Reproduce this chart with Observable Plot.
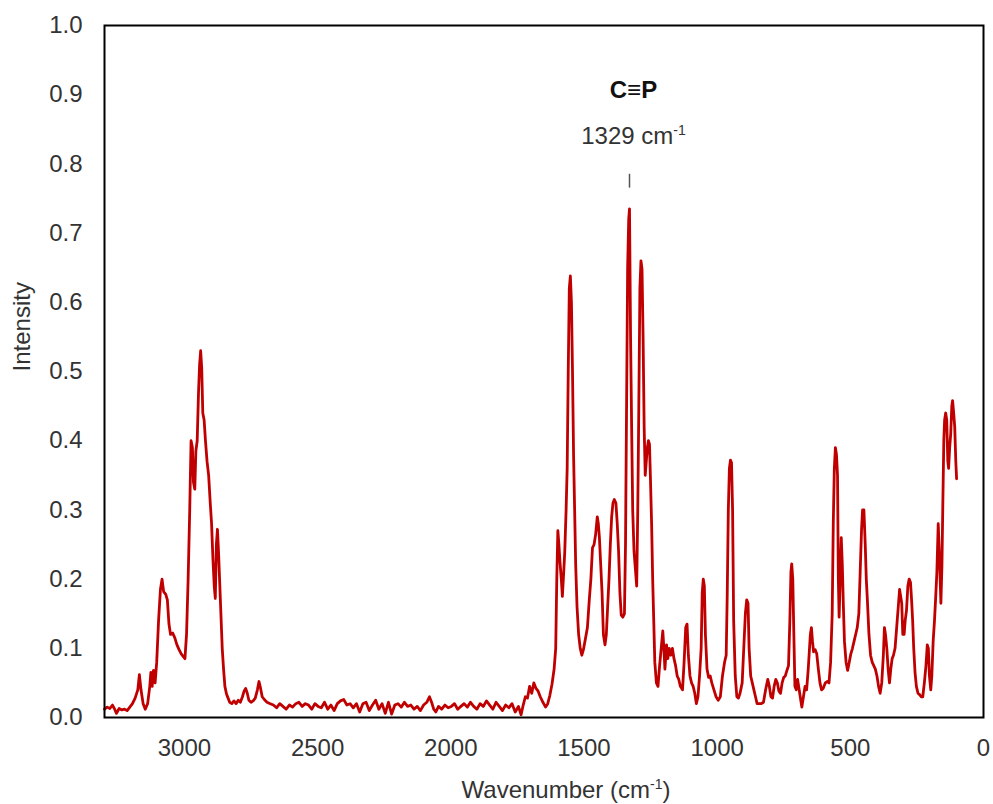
<!DOCTYPE html>
<html>
<head>
<meta charset="utf-8">
<script src="https://cdn.jsdelivr.net/npm/d3@7"></script>
<script src="https://cdn.jsdelivr.net/npm/@observablehq/plot@0.6"></script>
<style>
  html, body { margin: 0; padding: 0; background: white; }
  #chart { width: 993px; height: 804px; }
</style>
</head>
<body>
<div id="chart"></div>
<script>
// ---- Data ----
const wavenumbers = [
  3300,3290,3280,3270,3262,3255,3245,3235,3225,3215,3205,3195,3185,3175,3169,3163,3155,3147,3138,3130,
  3126,3121,3116,3110,3104,3097,3090,3084,3078,3070,3064,3058,3052,3044,3036,3028,3020,3012,3004,2998,
  2992,2986,2980,2975,2970,2966,2961,2957,2952,2947,2943,2939,2935,2931,2926,2921,2915,2909,2903,2898,
  2893,2888,2884,2880,2876,2872,2868,2863,2858,2853,2848,2842,2836,2830,2822,2814,2806,2798,2790,2782,
  2776,2770,2764,2758,2750,2742,2734,2726,2720,2714,2708,2700,
  2690,2678,2666,2654,2642,2630,2618,2606,2594,2582,2570,2558,2546,2534,2522,2510,2498,2486,2474,2462,
  2450,2438,2426,2414,2402,2390,2378,2366,2354,2342,2330,2318,2306,2294,2282,2270,2258,2246,2234,2222,
  2210,2198,2186,2174,2162,2150,2138,2126,2114,2102,2090,2080,2072,2064,2056,2046,2034,2022,2010,1998,
  1986,1974,1962,1950,1938,1926,1914,1902,1890,1878,1866,1854,1842,1830,1818,1806,1794,1782,1770,1758,
  1746,1736,1728,1720,1712,1704,1696,1688,1680,1672,1664,1654,1644,1636,1628,1620,1612,1606,1602,1598,
  1594,1590,1585,1581,1576,1572,1567,1563,1559,1555,1551,1547,1543,1539,1535,1531,1526,1520,1514,1508,
  1502,1494,1487,1480,1474,1468,1462,1456,1450,1446,1442,1437,1432,1427,1421,1416,1411,1406,1401,1396,
  1391,1386,1380,1375,1370,1365,1360,1354,1348,1344,1340,1336,1332,1329,1325,1321,1317,1312,1307,1302,
  1298,1294,1290,1286,1282,1278,1274,1270,1266,1262,1258,1254,1250,1246,1242,1238,1234,1228,1222,1216,
  1210,1204,1200,1196,1190,1185,1180,1174,1168,1162,1156,1150,1144,1138,1130,1124,1118,1113,1108,1102,
  1096,1090,1084,1078,1072,1066,1060,1056,1052,1048,1044,1038,1032,1026,1020,1012,1004,996,988,980,
  972,966,962,958,954,950,946,942,938,932,926,920,914,906,900,894,889,884,880,874,
  868,862,856,850,842,834,826,818,810,804,798,792,786,780,774,768,762,756,750,744,
  738,732,727,723,720,716,712,708,703,698,692,686,682,676,670,664,658,654,650,646,
  642,638,632,626,620,614,608,602,594,586,580,574,568,564,560,556,552,548,545,542,
  538,534,530,526,522,516,510,504,498,492,486,480,474,468,463,458,454,449,444,440,
  436,430,424,418,412,406,400,394,388,382,376,372,368,363,358,353,348,343,338,332,
  326,320,315,311,307,303,298,294,289,284,279,274,270,266,262,257,252,246,240,234,
  228,222,216,211,207,203,198,194,189,184,180,175,170,166,160,156,153,149,146,142,
  138,134,131,127,123,119,116,112,108,104,101
];
const intensities = [
  0.012,0.015,0.013,0.018,0.012,0.006,0.013,0.011,0.012,0.010,0.015,0.020,0.028,0.040,0.062,0.040,0.020,0.012,0.020,0.045,
  0.065,0.045,0.068,0.050,0.080,0.140,0.185,0.200,0.182,0.178,0.170,0.135,0.120,0.122,0.115,0.105,0.098,0.092,0.088,0.085,
  0.120,0.200,0.300,0.400,0.390,0.340,0.330,0.385,0.400,0.470,0.510,0.530,0.505,0.440,0.430,0.400,0.370,0.350,0.310,0.280,
  0.230,0.190,0.172,0.250,0.272,0.240,0.200,0.150,0.100,0.070,0.045,0.034,0.028,0.022,0.020,0.024,0.020,0.025,0.022,0.030,
  0.038,0.042,0.035,0.025,0.022,0.024,0.028,0.040,0.052,0.042,0.030,0.026,
  0.022,0.020,0.018,0.014,0.020,0.016,0.012,0.018,0.015,0.020,0.022,0.016,0.020,0.018,0.012,0.020,0.016,0.014,0.022,0.012,
  0.018,0.010,0.020,0.024,0.026,0.018,0.020,0.014,0.020,0.008,0.020,0.022,0.010,0.018,0.025,0.012,0.020,0.006,0.022,0.005,
  0.018,0.020,0.015,0.022,0.016,0.018,0.012,0.016,0.010,0.018,0.022,0.030,0.022,0.012,0.008,0.016,0.012,0.018,0.014,0.016,
  0.020,0.012,0.016,0.020,0.015,0.022,0.016,0.012,0.020,0.016,0.024,0.018,0.012,0.022,0.016,0.010,0.018,0.014,0.020,0.008,
  0.016,0.004,0.018,0.030,0.028,0.045,0.035,0.050,0.042,0.038,0.030,0.022,0.015,0.020,0.032,0.048,0.070,0.100,0.200,0.270,
  0.250,0.225,0.200,0.175,0.210,0.240,0.300,0.360,0.500,0.620,0.638,0.600,0.500,0.380,0.300,0.220,0.160,0.120,0.100,0.090,
  0.098,0.115,0.130,0.170,0.200,0.245,0.250,0.265,0.290,0.280,0.260,0.220,0.180,0.120,0.105,0.120,0.160,0.200,0.250,0.290,
  0.310,0.315,0.310,0.280,0.240,0.180,0.148,0.145,0.150,0.250,0.450,0.650,0.720,0.735,0.550,0.420,0.300,0.240,0.215,0.190,
  0.300,0.450,0.620,0.660,0.648,0.550,0.420,0.350,0.370,0.390,0.400,0.395,0.340,0.280,0.200,0.140,0.080,0.050,0.045,0.075,
  0.100,0.125,0.100,0.070,0.105,0.085,0.100,0.090,0.100,0.085,0.075,0.060,0.055,0.045,0.040,0.080,0.130,0.135,0.090,0.060,
  0.050,0.045,0.035,0.020,0.030,0.060,0.100,0.180,0.200,0.190,0.120,0.070,0.058,0.060,0.050,0.040,0.030,0.025,0.030,0.060,
  0.080,0.090,0.180,0.300,0.360,0.372,0.368,0.300,0.140,0.060,0.030,0.028,0.035,0.050,0.100,0.150,0.170,0.165,0.100,0.060,
  0.050,0.040,0.030,0.020,0.020,0.020,0.022,0.040,0.055,0.045,0.030,0.028,0.045,0.055,0.050,0.038,0.035,0.050,0.058,0.060,
  0.068,0.075,0.140,0.210,0.222,0.200,0.120,0.045,0.040,0.055,0.040,0.025,0.015,0.030,0.045,0.040,0.070,0.095,0.120,0.130,
  0.110,0.095,0.098,0.092,0.070,0.050,0.040,0.042,0.050,0.052,0.050,0.080,0.150,0.280,0.360,0.390,0.380,0.350,0.200,0.145,
  0.200,0.260,0.220,0.160,0.110,0.080,0.068,0.080,0.092,0.100,0.110,0.120,0.130,0.150,0.210,0.270,0.300,0.300,0.250,0.200,
  0.170,0.120,0.090,0.080,0.075,0.070,0.060,0.045,0.035,0.050,0.090,0.130,0.120,0.100,0.070,0.050,0.070,0.085,0.090,0.100,
  0.130,0.160,0.185,0.175,0.165,0.120,0.120,0.140,0.155,0.190,0.200,0.195,0.170,0.140,0.100,0.065,0.045,0.035,0.033,0.030,
  0.030,0.050,0.075,0.105,0.100,0.060,0.040,0.060,0.110,0.140,0.170,0.210,0.280,0.240,0.165,0.220,0.300,0.400,0.430,0.440,
  0.430,0.370,0.360,0.390,0.410,0.450,0.458,0.440,0.420,0.370,0.345
];
const xTicks = [3000, 2500, 2000, 1500, 1000, 500, 0];
const yTicks = [0, 0.1, 0.2, 0.3, 0.4, 0.5, 0.6, 0.7, 0.8, 0.9, 1.0];
const peakWavenumber = 1329;
const peakName = "C≡P";
const peakLabel = "1329 cm-1";
const xTitle = "Wavenumber (cm-1)";
const yTitle = "Intensity";

const spectrum = wavenumbers.map((w, i) => ({w, v: intensities[i]}));
const peakValue = d3.max(spectrum.filter(d => Math.abs(d.w - peakWavenumber) < 10), d => d.v);
const annot = [{w: peakWavenumber, v: peakValue}];

const textColor = "#333333";
const font = "'Liberation Sans', Arial, sans-serif";

const chart = Plot.plot({
  width: 993,
  height: 804,
  marginLeft: 104,
  marginRight: 10,
  marginTop: 25,
  marginBottom: 87,
  style: {fontFamily: font, fontSize: "24px", color: textColor, background: "white", overflow: "visible"},
  x: {domain: [3300, 0], axis: null},
  y: {domain: [0, 1], axis: null},
  marks: [
    Plot.axisX({ticks: xTicks, tickSize: 0, tickPadding: 21, fontSize: 24, label: null, fill: textColor, tickFormat: d => String(d)}),
    Plot.axisY({ticks: yTicks, tickSize: 0, tickPadding: 22, fontSize: 24, label: null, fill: textColor, tickFormat: d3.format(".1f")}),
    Plot.line(spectrum, {x: "w", y: "v", stroke: "#C00000", strokeWidth: 2.8, strokeLinejoin: "round"}),
    Plot.frame({stroke: "black", strokeWidth: 2}),
    Plot.ruleX(annot, {x: "w", y1: d => d.v + 0.03, y2: d => d.v + 0.05, stroke: "#555", strokeWidth: 1.5}),
    Plot.text(annot, {x: "w", y: "v", text: () => peakName, dx: 4, dy: -119, fontSize: 24, fontWeight: "bold", fill: "#111", lineAnchor: "middle", textAnchor: "middle"}),
    Plot.text(annot, {x: "w", y: "v", text: () => peakLabel, dx: 4, dy: -73, fontSize: 24, fill: textColor, lineAnchor: "middle", textAnchor: "middle"}),
    Plot.text([xTitle], {frameAnchor: "bottom", dx: 22, dy: 73, fontSize: 24, fill: textColor, lineAnchor: "middle"}),
    Plot.text([yTitle], {frameAnchor: "left", dx: -82, rotate: -90, fontSize: 24, fill: textColor, lineAnchor: "middle"})
  ]
});

// Turn "cm-1" into a real superscript
d3.select(chart).selectAll("text").each(function() {
  const el = d3.select(this);
  if (el.selectAll("tspan").size() > 0) return;
  const t = el.text();
  const idx = t.indexOf("cm-1");
  if (idx < 0) return;
  const before = t.slice(0, idx + 2);
  const after = t.slice(idx + 4);
  el.text(null);
  el.append("tspan").text(before);
  el.append("tspan").attr("font-size", "14px").attr("dy", "-9").text("-1");
  if (after) el.append("tspan").attr("dy", "9").text(after);
});

document.getElementById("chart").appendChild(chart);
</script>
</body>
</html>
